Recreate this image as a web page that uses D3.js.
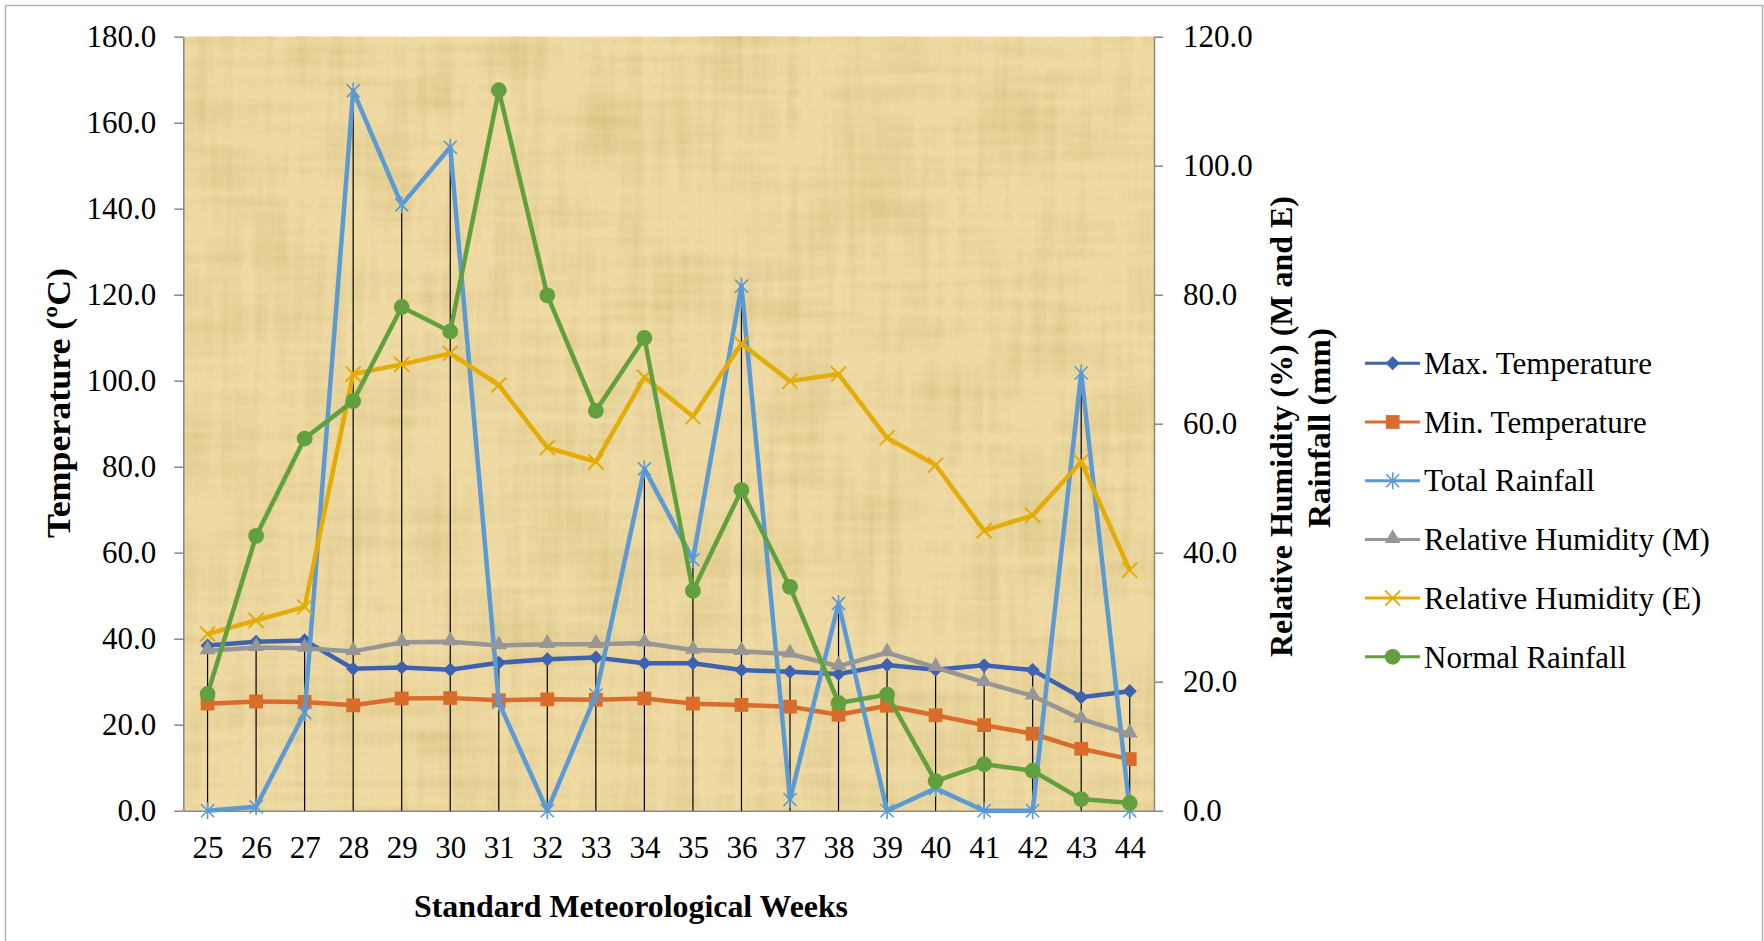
<!DOCTYPE html>
<html>
<head>
<meta charset="utf-8">
<script src="https://cdn.jsdelivr.net/npm/d3@7"></script>
<style>
    body { margin: 0; background: #fff; }
    text { font-family: "Times New Roman", "Liberation Serif", serif; fill: #000; }
</style>
</head>
<body>
<div class="chart"></div>
<script>
// Weekly weather data
var weeks = [25, 26, 27, 28, 29, 30, 31, 32, 33, 34, 35, 36, 37, 38, 39, 40, 41, 42, 43, 44];
var maxTemp = [38.4, 39.3, 39.6, 33.0, 33.3, 32.8, 34.4, 35.2, 35.6, 34.3, 34.3, 32.7, 32.3, 31.8, 33.9, 32.8, 33.8, 32.7, 26.4, 27.8];
var minTemp = [24.9, 25.4, 25.3, 24.5, 26.1, 26.2, 25.7, 25.9, 25.8, 26.1, 24.9, 24.6, 24.2, 22.3, 24.4, 22.2, 19.9, 17.9, 14.4, 12.0];
var totalRain = [0.0, 0.9, 22.8, 167.4, 140.9, 154.3, 25.2, 0.0, 26.9, 79.5, 58.4, 122.0, 2.6, 48.2, 0.0, 5.2, 0.0, 0.0, 101.8, 0.0];
var rhMorning = [24.8, 25.3, 25.2, 24.7, 26.1, 26.2, 25.6, 25.8, 25.8, 26.0, 24.9, 24.7, 24.3, 22.4, 24.5, 22.2, 19.9, 17.8, 14.2, 11.9];
var rhEvening = [27.4, 29.5, 31.6, 67.7, 69.2, 70.9, 66.0, 56.3, 54.1, 67.2, 61.1, 72.4, 66.6, 67.7, 57.8, 53.6, 43.4, 45.8, 54.1, 37.3];
var normalRain = [18.1, 42.6, 57.7, 63.5, 78.1, 74.3, 111.7, 79.9, 62.0, 73.3, 34.1, 49.7, 34.7, 16.7, 18.0, 4.6, 7.2, 6.2, 1.8, 1.2];

var leftTicks = [0, 20, 40, 60, 80, 100, 120, 140, 160, 180];
var rightTicks = [0, 20, 40, 60, 80, 100, 120];

var seriesList = [
    { name: "Max. Temperature", values: maxTemp, axis: "left", color: "#3e62b0", marker: "diamond" },
    { name: "Min. Temperature", values: minTemp, axis: "left", color: "#d96c2b", marker: "square" },
    { name: "Total Rainfall", values: totalRain, axis: "left", color: "#5b9ad5", marker: "star" },
    { name: "Relative Humidity (M)", values: rhMorning, axis: "right", color: "#969696", marker: "triangle" },
    { name: "Relative Humidity (E)", values: rhEvening, axis: "right", color: "#e3ac06", marker: "cross" },
    { name: "Normal Rainfall", values: normalRain, axis: "right", color: "#62a03f", marker: "circle" }
];

var svgWidth = 1764;
var svgHeight = 941;
var plot = { left: 183.3, right: 1154, top: 36.7, bottom: 810.7 };

var svg = d3.select(".chart")
    .append("svg")
    .attr("width", svgWidth)
    .attr("height", svgHeight);

// Outer frame
svg.append("rect")
    .attr("x", 5.5).attr("y", 5.5)
    .attr("width", 1757).attr("height", 960)
    .attr("fill", "#fff")
    .attr("stroke", "#b3b3b3")
    .attr("stroke-width", 1.5);

// Papyrus-like texture for the plot area
var defs = svg.append("defs");
var filt = defs.append("filter").attr("id", "papyrus")
    .attr("x", 0).attr("y", 0).attr("width", 1).attr("height", 1);
filt.append("feTurbulence").attr("type", "fractalNoise")
    .attr("baseFrequency", "0.006 0.09").attr("numOctaves", 3).attr("seed", 4).attr("result", "h");
filt.append("feTurbulence").attr("type", "fractalNoise")
    .attr("baseFrequency", "0.09 0.006").attr("numOctaves", 3).attr("seed", 9).attr("result", "v");
filt.append("feTurbulence").attr("type", "fractalNoise")
    .attr("baseFrequency", "0.012").attr("numOctaves", 2).attr("seed", 2).attr("result", "m");
filt.append("feComposite").attr("in", "h").attr("in2", "v")
    .attr("operator", "arithmetic").attr("k2", 0.5).attr("k3", 0.5).attr("result", "hv");
filt.append("feComposite").attr("in", "hv").attr("in2", "m")
    .attr("operator", "arithmetic").attr("k2", 0.65).attr("k3", 0.35).attr("result", "n");
filt.append("feColorMatrix").attr("in", "n").attr("type", "matrix")
    .attr("values", "0 0 0 0 0.64  0 0 0 0 0.5  0 0 0 0 0.18  1.9 0 0 0 -0.8")
    .attr("result", "tint");
filt.append("feComposite").attr("in", "tint").attr("in2", "SourceGraphic").attr("operator", "over");

svg.append("rect")
    .attr("x", plot.left).attr("y", plot.top)
    .attr("width", plot.right - plot.left)
    .attr("height", plot.bottom - plot.top)
    .attr("fill", "#efdaa4")
    .attr("filter", "url(#papyrus)");

// Scales
var x = d3.scalePoint().domain(weeks).range([plot.left, plot.right]).padding(0.5);
var yLeft = d3.scaleLinear().domain([0, 180]).range([plot.bottom, plot.top]);
var yRight = d3.scaleLinear().domain([0, 120]).range([plot.bottom, plot.top]);

// Axes
var leftAxis = svg.append("g")
    .attr("transform", `translate(${plot.left},0)`)
    .call(d3.axisLeft(yLeft).tickValues(leftTicks).tickFormat(d3.format(".1f"))
        .tickSize(9).tickSizeOuter(0).tickPadding(18));

var rightAxis = svg.append("g")
    .attr("transform", `translate(${plot.right},0)`)
    .call(d3.axisRight(yRight).tickValues(rightTicks).tickFormat(d3.format(".1f"))
        .tickSize(9).tickSizeOuter(0).tickPadding(20));

var bottomAxis = svg.append("g")
    .attr("transform", `translate(0,${plot.bottom})`)
    .call(d3.axisBottom(x).tickSize(0).tickSizeOuter(0).tickPadding(25));

[leftAxis, rightAxis, bottomAxis].forEach(function(ax) {
    ax.attr("font-family", null).attr("font-size", null);
    ax.select(".domain").attr("stroke", "#878787").attr("stroke-width", 1.5);
    ax.selectAll(".tick line").attr("stroke", "#878787").attr("stroke-width", 1.5);
    ax.selectAll(".tick text").style("font-size", "31px").attr("fill", "#000");
});

// Drop lines from the highest primary-axis point down to the category axis
var primary = seriesList.filter(s => s.axis === "left");
svg.append("g").selectAll("line")
    .data(weeks)
    .enter()
    .append("line")
    .attr("x1", d => x(d))
    .attr("x2", d => x(d))
    .attr("y1", (d, i) => yLeft(d3.max(primary, s => s.values[i])))
    .attr("y2", yLeft(0))
    .attr("stroke", "#000")
    .attr("stroke-width", 1.2);

// Marker drawing
function drawMarker(g, kind, color) {
    if (kind === "diamond") {
        g.append("path").attr("d", d3.symbol(d3.symbolSquare, 100)())
            .attr("transform", "rotate(45)").attr("fill", color);
    } else if (kind === "square") {
        g.append("path").attr("d", d3.symbol(d3.symbolSquare, 190)()).attr("fill", color);
    } else if (kind === "triangle") {
        g.append("path").attr("d", d3.symbol(d3.symbolTriangle, 110)())
            .attr("transform", "translate(0,-1)").attr("fill", color);
    } else if (kind === "circle") {
        g.append("path").attr("d", d3.symbol(d3.symbolCircle, 195)()).attr("fill", color);
    } else if (kind === "star") {
        g.append("path").attr("d", "M-6.5,-6.5L6.5,6.5M-6.5,6.5L6.5,-6.5M0,-8.5L0,8.5")
            .attr("stroke", color).attr("stroke-width", 1.6).attr("fill", "none");
    } else if (kind === "cross") {
        g.append("path").attr("d", "M-7.5,-7.5L7.5,7.5M-7.5,7.5L7.5,-7.5")
            .attr("stroke", color).attr("stroke-width", 2).attr("fill", "none");
    }
}

// Series lines and markers
seriesList.forEach(function(s) {
    var yScale = s.axis === "left" ? yLeft : yRight;
    var line = d3.line()
        .x((d, i) => x(weeks[i]))
        .y(d => yScale(d));

    var grp = svg.append("g");
    grp.append("path")
        .datum(s.values)
        .attr("d", line)
        .attr("fill", "none")
        .attr("stroke", s.color)
        .attr("stroke-width", 4.5)
        .attr("stroke-linejoin", "round");

    grp.selectAll("g.pt")
        .data(s.values)
        .enter()
        .append("g")
        .attr("class", "pt")
        .attr("transform", (d, i) => `translate(${x(weeks[i])},${yScale(d)})`)
        .each(function() { drawMarker(d3.select(this), s.marker, s.color); });
});

// Axis titles
svg.append("text")
    .attr("transform", "translate(70,403) rotate(-90)")
    .attr("text-anchor", "middle")
    .attr("textLength", 270)
    .attr("lengthAdjust", "spacingAndGlyphs")
    .style("font-size", "34px")
    .style("font-weight", "bold")
    .text("Temperature (ºC)");

svg.append("text")
    .attr("transform", "translate(1291.7,426.5) rotate(-90)")
    .attr("text-anchor", "middle")
    .attr("textLength", 461)
    .attr("lengthAdjust", "spacingAndGlyphs")
    .style("font-size", "32px")
    .style("font-weight", "bold")
    .text("Relative Humidity (%) (M and E)");

svg.append("text")
    .attr("transform", "translate(1330,428) rotate(-90)")
    .attr("text-anchor", "middle")
    .attr("textLength", 200)
    .attr("lengthAdjust", "spacingAndGlyphs")
    .style("font-size", "32px")
    .style("font-weight", "bold")
    .text("Rainfall (mm)");

svg.append("text")
    .attr("x", 631)
    .attr("y", 916.7)
    .attr("text-anchor", "middle")
    .attr("textLength", 434)
    .attr("lengthAdjust", "spacingAndGlyphs")
    .style("font-size", "32px")
    .style("font-weight", "bold")
    .text("Standard Meteorological Weeks");

// Legend
var legend = svg.append("g");
var legendRows = legend.selectAll("g")
    .data(seriesList)
    .enter()
    .append("g")
    .attr("transform", (d, i) => `translate(0,${363.3 + i * 58.7})`);

legendRows.append("line")
    .attr("x1", 1365).attr("x2", 1420)
    .attr("y1", 0).attr("y2", 0)
    .attr("stroke", d => d.color)
    .attr("stroke-width", 3);

legendRows.append("g")
    .attr("transform", "translate(1392.7,0)")
    .each(function(d) { drawMarker(d3.select(this), d.marker, d.color); });

legendRows.append("text")
    .attr("x", 1424)
    .attr("y", 10.7)
    .style("font-size", "31px")
    .text(d => d.name);
</script>
</body>
</html>
